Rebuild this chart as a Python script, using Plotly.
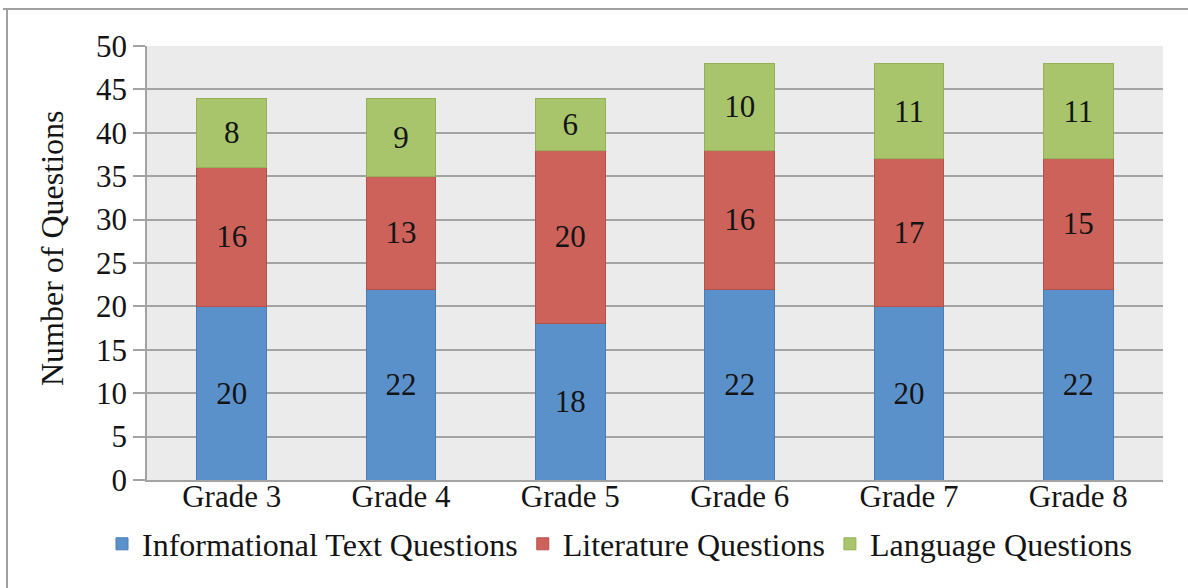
import plotly.graph_objects as go

grades = ["Grade 3", "Grade 4", "Grade 5", "Grade 6", "Grade 7", "Grade 8"]
informational = [20, 22, 18, 22, 20, 22]
literature = [16, 13, 20, 16, 17, 15]
language = [8, 9, 6, 10, 11, 11]

series = [
    ("Informational Text Questions", informational, "#5B91CB", "#4A7DB5"),
    ("Literature Questions", literature, "#CC625A", "#B3524B"),
    ("Language Questions", language, "#A8C56B", "#93B05A"),
]

FONT = "Liberation Serif, Times New Roman, serif"
INK = "#141414"

fig = go.Figure()
for name, vals, col, edge in series:
    fig.add_trace(go.Bar(
        x=grades, y=vals, name=name,
        marker=dict(color=col, line=dict(color=edge, width=1)),
        text=[str(v) for v in vals], textposition="inside",
        insidetextanchor="middle",
        textfont=dict(family=FONT, size=31, color=INK),
        constraintext="none",
    ))

L, R, T, B = 147, 25, 46, 108
W, H = 1188, 588
pw, ph = W - L - R, H - T - B

def px(x):
    return (x - L) / pw

def py(y):
    return (H - B - y) / ph

fig.update_layout(
    width=W, height=H,
    barmode="stack", bargap=0.59,
    margin=dict(l=L, r=R, t=T, b=B),
    paper_bgcolor="white", plot_bgcolor="#EBEBEB",
    font=dict(family=FONT, size=30, color=INK),
    showlegend=True,
    legend=dict(orientation="h", x=px(102), xanchor="left", y=py(544), yanchor="middle",
                font=dict(family=FONT, size=32, color=INK),
                bgcolor="rgba(0,0,0,0)", traceorder="normal", itemwidth=30),
    uniformtext=dict(minsize=8, mode="show"),
)
fig.update_yaxes(range=[0, 50], dtick=5, showgrid=True, gridcolor="#A3A3A3", gridwidth=1.5,
                 showline=True, linecolor="#A3A3A3", linewidth=1.5,
                 ticks="outside", ticklen=12, tickcolor="#A3A3A3", tickwidth=1.5,
                 tickfont=dict(family=FONT, size=31, color=INK),
                 zeroline=False)
fig.update_xaxes(showline=True, linecolor="#A3A3A3", linewidth=1.5, ticks="",
                 ticklabelstandoff=-12,
                 tickfont=dict(family=FONT, size=31, color=INK))

fig.add_annotation(text="Number of Questions", xref="paper", yref="paper",
                   x=px(52), y=py(248), textangle=-90, showarrow=False,
                   xanchor="center", yanchor="middle",
                   font=dict(family=FONT, size=32, color=INK))

# frame around the figure
fig.add_shape(type="line", xref="paper", yref="paper", x0=px(3), x1=px(1188), y0=py(9), y1=py(9),
              line=dict(color="#A0A0A0", width=2))
fig.add_shape(type="line", xref="paper", yref="paper", x0=px(7), x1=px(7), y0=py(9), y1=py(588),
              line=dict(color="#A0A0A0", width=2))
# zero tick extension
fig.add_shape(type="line", xref="paper", yref="y", x0=px(135), x1=0, y0=0, y1=0,
              line=dict(color="#A3A3A3", width=1.5))

fig.write_html("out.html", config={"displayModeBar": False},
               post_script="document.body.style.margin='0';document.body.style.overflow='hidden';")
